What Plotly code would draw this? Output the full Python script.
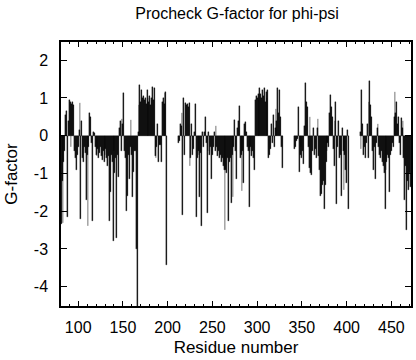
import plotly.graph_objects as go

# Residue segments (first residue of each continuous stretch) and G-factor values
seg_starts = [81, 212, 342, 415]

g_seg1 = [-2.35, -1.2, -2.3, -0.7, -0.4, 0.55, 0.65, -2.15, 0.4, 0.95,
          0.9, -0.3, 0.85, 0.9, 0.8, -0.4, -0.6, -0.9, -0.5, -0.3,
          0.15, 0.86, -2.2, 0.4, -0.6, -0.7, -0.3, -0.45, -1.7, -0.5,
          -2.4, -0.3, 0.6, 0.5, -0.2, -2.25, 0.1, 0.08, -0.3, -0.5,
          -0.55, -0.35, -0.6, -0.45, -0.3, -0.55, -0.65, -0.4, -0.7, -0.5,
          -0.35, -0.6, -0.8, -0.55, -2.25, -1.5, -0.5, -0.7, -2.78, -0.4,
          -1.0, -0.6, -2.7, -0.5, -1.1, 0.2, 0.4, -0.4, 0.45, 0.3,
          1.13, -0.4, -0.6, -2.0, -1.6, -0.5, -1.15, -0.3, 0.42, -0.5,
          -1.63, -0.95, -0.4, -0.4, -3.0, -4.6, 0.1, 0.8, 1.34, 0.9,
          1.2, 1.0, 1.05, 0.95, 1.0, 0.85, 1.2, 1.0, 0.9, 1.05,
          0.8, 1.0, 1.3, 0.95, 1.25, -0.54, -0.6, -0.3, 0.3, -0.7,
          -0.25, -0.24, -0.7, 0.9, 1.0, 0.85, 1.13, 1.16, -3.42]

g_seg2 = [-0.2, -0.15, 0.3, 0.25, 0.6, -2.1, 1.0, -0.5, 0.86, 0.8,
          0.85, 0.75, 0.86, -0.8, -0.6, 0.3, -0.5, -0.35, 0.1, 0.83,
          -2.15, -0.6, -0.4, -0.5, -1.63, -0.45, -2.4, 0.1, -0.3, 0.1,
          0.5, -0.2, -2.05, -0.4, 0.1, -0.5, -0.3, -1.15, -0.5, -0.3,
          0.1, -0.4, 0.26, -0.3, -0.54, -0.4, -0.6, -0.5, -0.7, -0.6,
          -0.8, -0.9, -2.5, -0.9, -1.0, -0.6, -2.25, -0.7, -0.6, -1.77,
          -0.5, -1.63, -0.3, 0.42, -0.4, -1.15, 0.2, 0.4, 0.78, -0.6,
          -0.5, -1.46, -0.4, -1.24, 0.3, 0.35, 0.1, -0.3, -0.4, -1.9,
          -0.4, -0.3, -0.55, -0.4, -0.6, -0.9, 0.95, 1.05, 1.0, 1.1,
          0.95, 1.25, 1.1, 1.0, 1.2, 1.05, 1.25, 0.9, 1.15, 1.0,
          1.2, -0.6, -0.5, -0.35, 0.3, -0.2, 0.55, -0.3, 0.2, 0.7,
          0.4, 1.25, 0.6, 1.2, 0.5, -0.3, -0.85]

g_seg3 = [-0.35, -0.3, -0.15, -0.1, 0.75, -0.95, -0.5, -0.3, -0.6, -0.4,
          -0.75, 0.25, 1.4, 0.9, 0.75, -0.3, -0.85, 0.5, -1.0, -1.05,
          -0.4, 0.2, -0.5, -0.35, -0.6, 0.2, 0.45, -0.55, -0.9, -1.6,
          -1.55, -1.3, -1.2, -1.95, -1.3, -0.7, -0.4, -0.2, -0.3, 0.6,
          1.08, 0.75, 0.5, -0.35, -0.8, 0.4, 0.9, -1.8, -0.3, 0.4,
          -0.6, -0.5, -1.6, 0.2, -0.4, -1.45, -0.5, -0.9, -1.25, 0.15,
          -1.95]

g_seg4 = [0.1, -0.35, 1.2, 0.3, -0.5, -0.3, -0.6, -0.2, 0.3, -0.6,
          0.9, 1.45, 0.8, 0.5, -0.4, -0.9, -0.3, -1.15, -0.2, 0.2,
          0.3, -0.3, -0.5, -0.6, -0.4, -0.7, -0.8, -1.0, -1.95, -0.9,
          -0.7, -0.5, -0.6, -1.5, -0.5, -0.4, -0.2, -0.3, 0.5, 1.15,
          0.6, 0.9, 0.3, 0.5, -0.2, -0.5, 0.47, 0.2, 0.4, -0.6,
          -1.7, -0.8, -2.5, -1.2, -1.45, -1.0, -1.35]

x_ticks = [100, 150, 200, 250, 300, 350, 400, 450]
y_ticks = [-4, -3, -2, -1, 0, 1, 2]
y_tick_labels = ["-4", "-3", "-2", "-1", "0", "1", "2"]

residues, gvals = [], []
for start, seg in zip(seg_starts, [g_seg1, g_seg2, g_seg3, g_seg4]):
    residues += list(range(start, start + len(seg)))
    gvals += seg

font = "Liberation Sans, Arial, Helvetica, sans-serif"

fig = go.Figure()
fig.add_trace(go.Bar(
    x=residues, y=gvals, width=1.0,
    marker=dict(color="#000000", line=dict(color="#000000", width=0.3)),
    showlegend=False,
))

axis_common = dict(
    showgrid=False, zeroline=False, showline=True, linecolor="#000000",
    linewidth=1.5, mirror="allticks", ticks="inside", tickcolor="#000000",
    tickfont=dict(family=font, size=16, color="#000000"),
)

fig.update_layout(
    width=416, height=360,
    margin=dict(l=61, r=3, t=42, b=54),
    paper_bgcolor="#ffffff", plot_bgcolor="#ffffff",
    bargap=0,
    title=dict(text="Procheck G-factor for phi-psi", x=0.57, xanchor="center",
               y=0.962, yanchor="middle",
               font=dict(family=font, size=16, color="#000000")),
    xaxis=dict(range=[80.8, 471.9], tickvals=x_ticks, ticklen=5, tickwidth=1,
               minor=dict(dtick=10, ticklen=2.5, ticks="inside", tickcolor="#000000"),
               title=dict(text="Residue number", standoff=6,
                          font=dict(family=font, size=17, color="#000000")),
               ticklabelstandoff=6, **axis_common),
    yaxis=dict(range=[-4.51, 2.48], tickvals=y_ticks, ticktext=y_tick_labels,
               ticklen=6, tickwidth=1,
               title=dict(text="G-factor", standoff=12,
                          font=dict(family=font, size=17, color="#000000")),
               ticklabelstandoff=8, **axis_common),
)

fig.write_html("out.html", config={"displayModeBar": False},
               post_script="document.body.style.margin='0';")
